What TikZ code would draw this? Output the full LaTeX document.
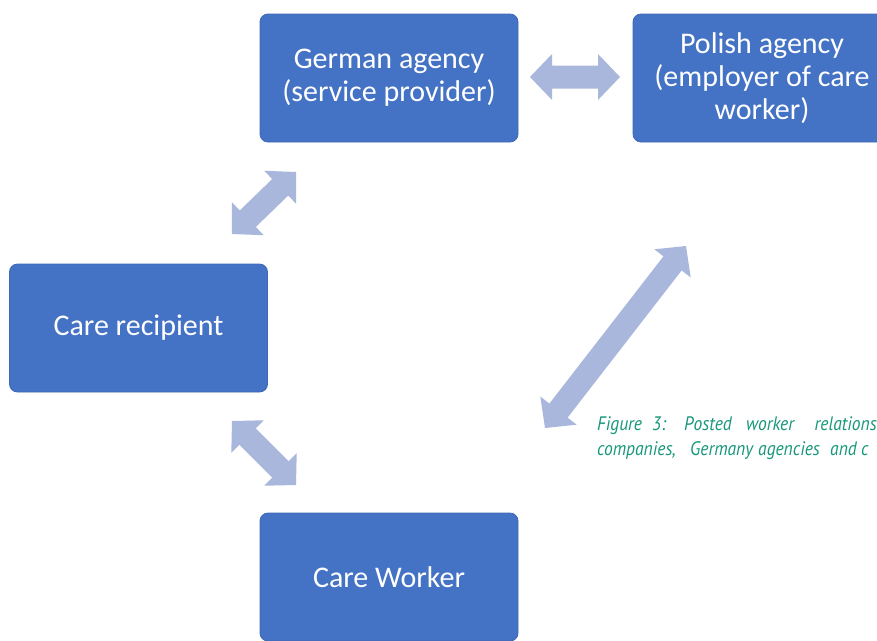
\documentclass[tikz,border=0pt]{standalone}
\usepackage{fontspec}
\setmainfont{Carlito}
\newfontfamily\capfont[FakeStretch=0.9]{PT Sans}
\usetikzlibrary{calc}
\definecolor{boxblue}{HTML}{4472C4}
\definecolor{boxedge}{HTML}{3D68B5}
\definecolor{arrowc}{HTML}{AAB7DC}
\definecolor{capc}{HTML}{17977B}
\newcommand{\hl}{22pt}
\newcommand{\hw}{23pt}
\newcommand{\sw}{11.5pt}
\newcommand{\blockarr}[2]{%
  \fill[arrowc] (#1)
    -- ($(#1)!\hl!(#2)!\hw!90:(#2)$)
    -- ($(#1)!\hl!(#2)!\sw!90:(#2)$)
    -- ($(#2)!\hl!(#1)!\sw!-90:(#1)$)
    -- ($(#2)!\hl!(#1)!\hw!-90:(#1)$)
    -- (#2)
    -- ($(#2)!\hl!(#1)!\hw!90:(#1)$)
    -- ($(#2)!\hl!(#1)!\sw!90:(#1)$)
    -- ($(#1)!\hl!(#2)!\sw!-90:(#2)$)
    -- ($(#1)!\hl!(#2)!\hw!-90:(#2)$)
    -- cycle;}
\begin{document}
\begin{tikzpicture}[x=1pt,y=-1pt,
  box/.style={draw=boxedge, line width=0.8pt, fill=boxblue, rounded corners=8pt,
    minimum width=258pt, minimum height=128pt, text=white, align=center,
    font=\fontsize{30}{33}\selectfont, inner sep=0pt},
  captext/.style={text=capc, font=\capfont\itshape\fontsize{19.5}{24}\selectfont, inner sep=0pt, anchor=base west}]
\useasboundingbox (0,0) rectangle (877,640);
\clip (0,0) rectangle (877,640);
\fill[white] (0,0) rectangle (877,640);
\node[box] (german) at (389,78) {German agency\\(service provider)};
\node[box] (polish) at (762,78) {Polish agency\\(employer of care\\worker)};
\node[box] (recip) at (138.5,328) {Care recipient};
\node[box] (worker) at (389,577) {Care Worker};
% arrow end points
\coordinate (gp1) at (530,77);
\coordinate (gp2) at (620,77);
\coordinate (rg1) at (232,234);
\coordinate (rg2) at (296,172);
\coordinate (rw1) at (232,421);
\coordinate (rw2) at (296,485);
\coordinate (wp1) at (545,428);
\coordinate (wp2) at (686,246);
\blockarr{gp1}{gp2}
\blockarr{rg1}{rg2}
\blockarr{rw1}{rw2}
\blockarr{wp1}{wp2}
% caption, line 1 (justified)
\node[captext] (c1) at (597,430) {Figure};
\node[captext] (c2) at (652,430) {3:};
\node[captext] (c3) at (684,430) {Posted};
\node[captext] (c4) at (746,430) {worker};
\node[captext, anchor=base east] (c5) at (877,430) {relations};
% caption, line 2
\node[captext] (d1) at (597,455) {companies,};
\node[captext] (d2) at (690,455) {Germany};
\node[captext] (d3) at (758,455) {agencies};
\node[captext] (d4) at (830,455) {and};
\node[captext] (d5) at (861,455) {c};
\end{tikzpicture}
\end{document}
